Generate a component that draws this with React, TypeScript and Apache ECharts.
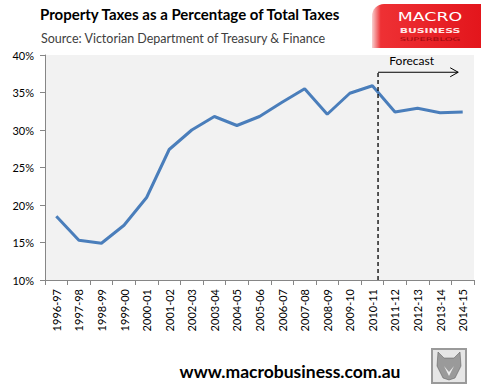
import React, { useEffect, useRef } from "react";
import * as echarts from "echarts";

const categories = [
  "1996-97", "1997-98", "1998-99", "1999-00", "2000-01", "2001-02", "2002-03",
  "2003-04", "2004-05", "2005-06", "2006-07", "2007-08", "2008-09", "2009-10",
  "2010-11", "2011-12", "2012-13", "2013-14", "2014-15",
];
const propertyShare = [
  18.5, 15.3, 14.9, 17.3, 21.0, 27.4, 30.0, 31.8, 30.6, 31.8,
  33.7, 35.5, 32.1, 34.9, 35.9, 32.4, 32.9, 32.3, 32.4,
];
const forecastStart = 14.25; // between 2010-11 and 2011-12 (category index units)
const forecastArrowEnd = 17.8;
const forecastLevel = 37.7;
const forecastLabel = "Forecast";
const yMin = 10;
const yMax = 40;
const yInterval = 5;

const FONT = "Lato, 'Liberation Sans', sans-serif";

export default function App() {
  const ref = useRef<HTMLDivElement>(null);
  useEffect(() => {
    if (!ref.current) return;
    const chart = echarts.init(ref.current, null, { renderer: "svg" });

    const baseGraphics: any[] = [
      {
        type: "text",
        left: 40,
        top: 6,
        style: {
          text: "Property Taxes as a Percentage of Total Taxes",
          fontFamily: FONT,
          fontWeight: "bold",
          fontSize: 15,
          fill: "#000",
        },
      },
      {
        type: "text",
        left: 41,
        top: 32,
        style: {
          text: "Source: Victorian Department of Treasury & Finance",
          fontFamily: FONT,
          fontSize: 12.5,
          fill: "#404040",
        },
      },
      {
        type: "rect",
        shape: { x: 372, y: 4, width: 109, height: 44, r: [12, 0, 0, 0] },
        style: {
          fill: new echarts.graphic.LinearGradient(0, 0, 1, 0, [
            { offset: 0, color: "#f8d0d0" },
            { offset: 0.08, color: "#ee3034" },
            { offset: 1, color: "#e3161c" },
          ]),
        },
      },
      {
        type: "text",
        x: 430,
        y: 17,
        scaleX: 1.45,
        style: {
          text: "MACRO",
          fontFamily: "'DejaVu Sans', sans-serif",
          fontWeight: "normal",
          fontSize: 12,
          fill: "#ffffff",
          align: "center",
          verticalAlign: "middle",
        },
      },
      {
        type: "text",
        x: 430,
        y: 30,
        scaleX: 1.45,
        style: {
          text: "BUSINESS",
          fontFamily: "'DejaVu Sans', sans-serif",
          fontWeight: "bold",
          fontSize: 7.5,
          fill: "#ffe5e5",
          align: "center",
          verticalAlign: "middle",
        },
      },
      {
        type: "text",
        x: 430,
        y: 39,
        scaleX: 2,
        style: {
          text: "SUPERBLOG",
          fontFamily: "'DejaVu Sans', sans-serif",
          fontSize: 5,
          fill: "#9a0a0e",
          align: "center",
          verticalAlign: "middle",
        },
      },
      {
        type: "text",
        x: 290,
        y: 371,
        style: {
          text: "www.macrobusiness.com.au",
          fontFamily: FONT,
          fontWeight: "bold",
          fontSize: 17.5,
          fill: "#000",
          align: "center",
          verticalAlign: "middle",
        },
      },
      {
        type: "rect",
        shape: { x: 432, y: 349, width: 34, height: 34 },
        style: { fill: "#e6e6e6", stroke: "#9a9a9a", lineWidth: 2 },
      },
      {
        type: "polygon",
        shape: {
          points: [
            [438, 352], [444, 358], [454, 358], [460, 352], [461, 366],
            [455, 378], [449, 380], [443, 378], [437, 366],
          ],
        },
        style: { fill: "#9a9a9a", stroke: "#555", lineWidth: 0.5 },
      },
      {
        type: "polygon",
        shape: { points: [[444, 366], [449, 372], [454, 366], [449, 376]] },
        style: { fill: "#ececec" },
      },
    ];

    chart.setOption({
      animation: false,
      backgroundColor: "#ffffff",
      textStyle: { fontFamily: FONT },
      grid: {
        left: 45,
        right: 12,
        top: 55,
        bottom: 110,
        show: true,
        backgroundColor: "#f2f2f2",
        borderWidth: 0,
      },
      xAxis: {
        type: "category",
        data: categories,
        boundaryGap: true,
        axisLine: { lineStyle: { color: "#868686", width: 1 } },
        axisTick: { show: true, interval: 0, length: 5, lineStyle: { color: "#868686" } },
        axisLabel: {
          interval: 0,
          rotate: 90,
          margin: 9,
          color: "#000",
          fontSize: 11,
          fontFamily: FONT,
        },
        splitLine: { show: false },
      },
      yAxis: {
        type: "value",
        min: yMin,
        max: yMax,
        interval: yInterval,
        axisLine: { show: true, lineStyle: { color: "#868686", width: 1 } },
        axisTick: { show: true, length: 5, lineStyle: { color: "#868686" } },
        axisLabel: {
          formatter: "{value}%",
          color: "#000",
          fontSize: 11,
          margin: 11,
          fontFamily: FONT,
        },
        splitLine: { show: false },
      },
      series: [
        {
          type: "line",
          data: propertyShare,
          symbol: "none",
          lineStyle: { color: "#4a7ebb", width: 3 },
          z: 3,
        },
      ],
      graphic: baseGraphics,
    });

    // Forecast annotation positioned through the chart's own scales
    const xAt = (pos: number) => {
      const i = Math.floor(pos);
      const f = pos - i;
      const a = chart.convertToPixel({ seriesIndex: 0 }, [i, yMin]) as number[];
      const b = chart.convertToPixel({ seriesIndex: 0 }, [i + 1, yMin]) as number[];
      return a[0] + (b[0] - a[0]) * f;
    };
    const yAt = (v: number) =>
      (chart.convertToPixel({ seriesIndex: 0 }, [0, v]) as number[])[1];

    const xF = xAt(forecastStart);
    const xE = xAt(forecastArrowEnd);
    const yF = yAt(forecastLevel);
    const yBase = yAt(yMin);

    chart.setOption({
      graphic: [
        ...baseGraphics,
        {
          type: "line",
          shape: { x1: xF, y1: yBase, x2: xF, y2: yF },
          style: { stroke: "#000", lineWidth: 1.3, lineDash: [4, 3] },
          z: 10,
        },
        {
          type: "line",
          shape: { x1: xF, y1: yF, x2: xE, y2: yF },
          style: { stroke: "#000", lineWidth: 1 },
          z: 10,
        },
        {
          type: "polyline",
          shape: { points: [[xE - 8, yF - 4.5], [xE, yF], [xE - 8, yF + 4.5]] },
          style: { stroke: "#000", lineWidth: 1, fill: "none" },
          z: 10,
        },
        {
          type: "text",
          x: xF + (xE - xF) * 0.42,
          y: yF - 12,
          style: {
            text: forecastLabel,
            fontFamily: FONT,
            fontSize: 12,
            fill: "#000",
            align: "center",
            verticalAlign: "middle",
          },
          z: 10,
        },
      ],
    });

    return () => chart.dispose();
  }, []);
  return (
    <div
      ref={ref}
      style={{ position: "fixed", left: 0, top: 0, width: 486, height: 390 }}
    />
  );
}
